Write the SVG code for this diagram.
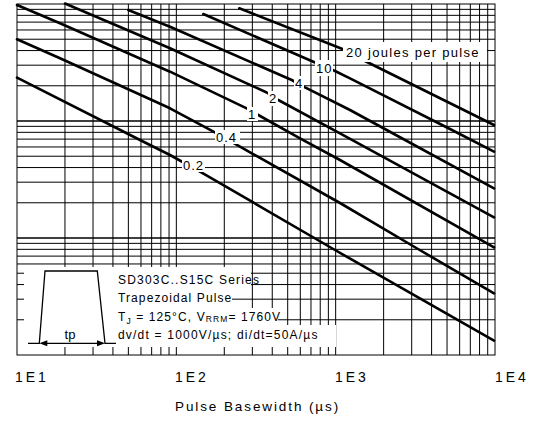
<svg xmlns="http://www.w3.org/2000/svg" width="536" height="422" viewBox="0 0 536 422">
<style>
.g{stroke:#000;stroke-width:1;fill:none}
.gd{stroke:#000;stroke-width:1.6;fill:none}
.c{stroke:#000;stroke-width:2.6;fill:none;stroke-linejoin:round;stroke-linecap:round}
.t{font-family:"Liberation Sans",Arial,sans-serif;fill:#000}
.lab{font-size:13px;letter-spacing:1px}
.leg{font-size:12px;letter-spacing:1.1px}
.ax{font-size:14px;letter-spacing:3px}
.bg{fill:#fff;stroke:none}
</style>
<rect width="536" height="422" fill="#fff"/>
<g id="grid">
<path class="g" d="M64.96,4V355M93.02,4V355M112.93,4V355M128.37,4V355M140.98,4V355M151.65,4V355M160.89,4V355M169.04,4V355M176.33,4V355M224.29,4V355M252.35,4V355M272.26,4V355M287.7,4V355M300.31,4V355M310.98,4V355M320.22,4V355M328.37,4V355M335.67,4V355M383.63,4V355M411.69,4V355M431.6,4V355M447.04,4V355M459.65,4V355M470.32,4V355M479.56,4V355M487.71,4V355"/>
<path class="g" d="M17,319.78H495M17,299.18H495M17,284.56H495M17,273.22H495M17,263.96H495M17,256.12H495M17,249.34H495M17,243.35H495M17,202.78H495M17,182.18H495M17,167.56H495M17,156.22H495M17,146.96H495M17,139.12H495M17,132.34H495M17,126.35H495M17,85.78H495M17,65.18H495M17,50.56H495M17,39.22H495M17,29.96H495M17,22.12H495M17,15.34H495M17,9.35H495"/>
<path class="gd" d="M17,238H495M17,121H495"/>
</g>
<g id="curves">
<path id="c02" class="c" d="M17,77.7L140,140L170,155L203,173.3L335,250L494,340.7"/>
<path id="c04" class="c" d="M17,39.3L60,58.3L170,108.3L216.7,133.3L240,146.7L340,203L418,249L494,293.3"/>
<path id="c1" class="c" d="M17,5L60,23.3L170,71.7L246.7,108.3L258.3,115L300,138.3L340,160L494,247.3"/>
<path id="c2" class="c" d="M65,3.5L170,48.3L266.7,92.5L278.3,100L340,133.3L494,217.3"/>
<path id="c4" class="c" d="M128.3,10L170,26.7L291.7,80L305,87.3L350,110L383,128L494,188.3"/>
<path id="c10" class="c" d="M203.3,14L313.3,61.7L335,71L350,78.3L450,129L494,151.7"/>
<path id="c20" class="c" d="M239.3,8.3L345,50L365,61L494,125"/>
</g>
<g id="frame">
<rect x="17" y="4" width="478" height="351" class="g"/>
</g>
<g id="labels">
<g id="lbl-20"><rect class="bg" x="343" y="42" width="144" height="20"/><text class="t lab" x="346" y="57" style="letter-spacing:1.3px">20 joules per pulse</text></g>
<g id="lbl-10"><rect class="bg" x="315" y="60" width="18" height="16"/><text class="t lab" x="316" y="73">10</text></g>
<g id="lbl-4"><rect class="bg" x="294" y="76" width="10" height="14"/><text class="t lab" x="295" y="88">4</text></g>
<g id="lbl-2"><rect class="bg" x="268" y="91" width="10" height="15"/><text class="t lab" x="269" y="103">2</text></g>
<g id="lbl-1"><rect class="bg" x="247" y="107" width="11" height="14"/><text class="t lab" x="248" y="119">1</text></g>
<g id="lbl-04"><rect class="bg" x="215" y="130" width="25" height="14"/><text class="t lab" x="216" y="142">0.4</text></g>
<g id="lbl-02"><rect class="bg" x="182" y="157" width="23" height="15"/><text class="t lab" x="183" y="169.5">0.2</text></g>
</g>
<g id="legend">
<path class="bg" d="M24,267H251V290H232V308H278V325H336V347H24Z"/>
<path d="M28,343.3H39.3L45,271H97.3L105,343.3H116" fill="none" stroke="#000" stroke-width="1.3"/>
<path d="M47,343.3H97" stroke="#000" stroke-width="1.2"/>
<path d="M39.3,343.3l8,-3v6z M105,343.3l-8,-3v6z" fill="#000"/>
<text class="t" x="70" y="339" font-size="13" text-anchor="middle">tp</text>
<text class="t leg" x="118" y="284" style="letter-spacing:1.2px">SD303C..S15C Series</text>
<text class="t leg" x="118" y="302">Trapezoidal Pulse</text>
<text class="t leg" x="118" y="321">T<tspan font-size="8.5" dy="2.5">J</tspan><tspan dy="-2.5"> = 125°C, V</tspan><tspan font-size="8.5" dy="1">RRM</tspan><tspan dy="-1">= 1760V</tspan></text>
<text class="t leg" x="118" y="339" style="letter-spacing:1.2px">dv/dt = 1000V/µs; di/dt=50A/µs</text>
</g>
<g id="axis">
<text class="t ax" x="15" y="382">1E1</text>
<text class="t ax" x="175" y="382">1E2</text>
<text class="t ax" x="335" y="382">1E3</text>
<text class="t ax" x="495" y="382">1E4</text>
<text class="t ax" x="175" y="411" style="letter-spacing:1.9px;font-size:13.5px">Pulse Basewidth (µs)</text>
</g>
</svg>
